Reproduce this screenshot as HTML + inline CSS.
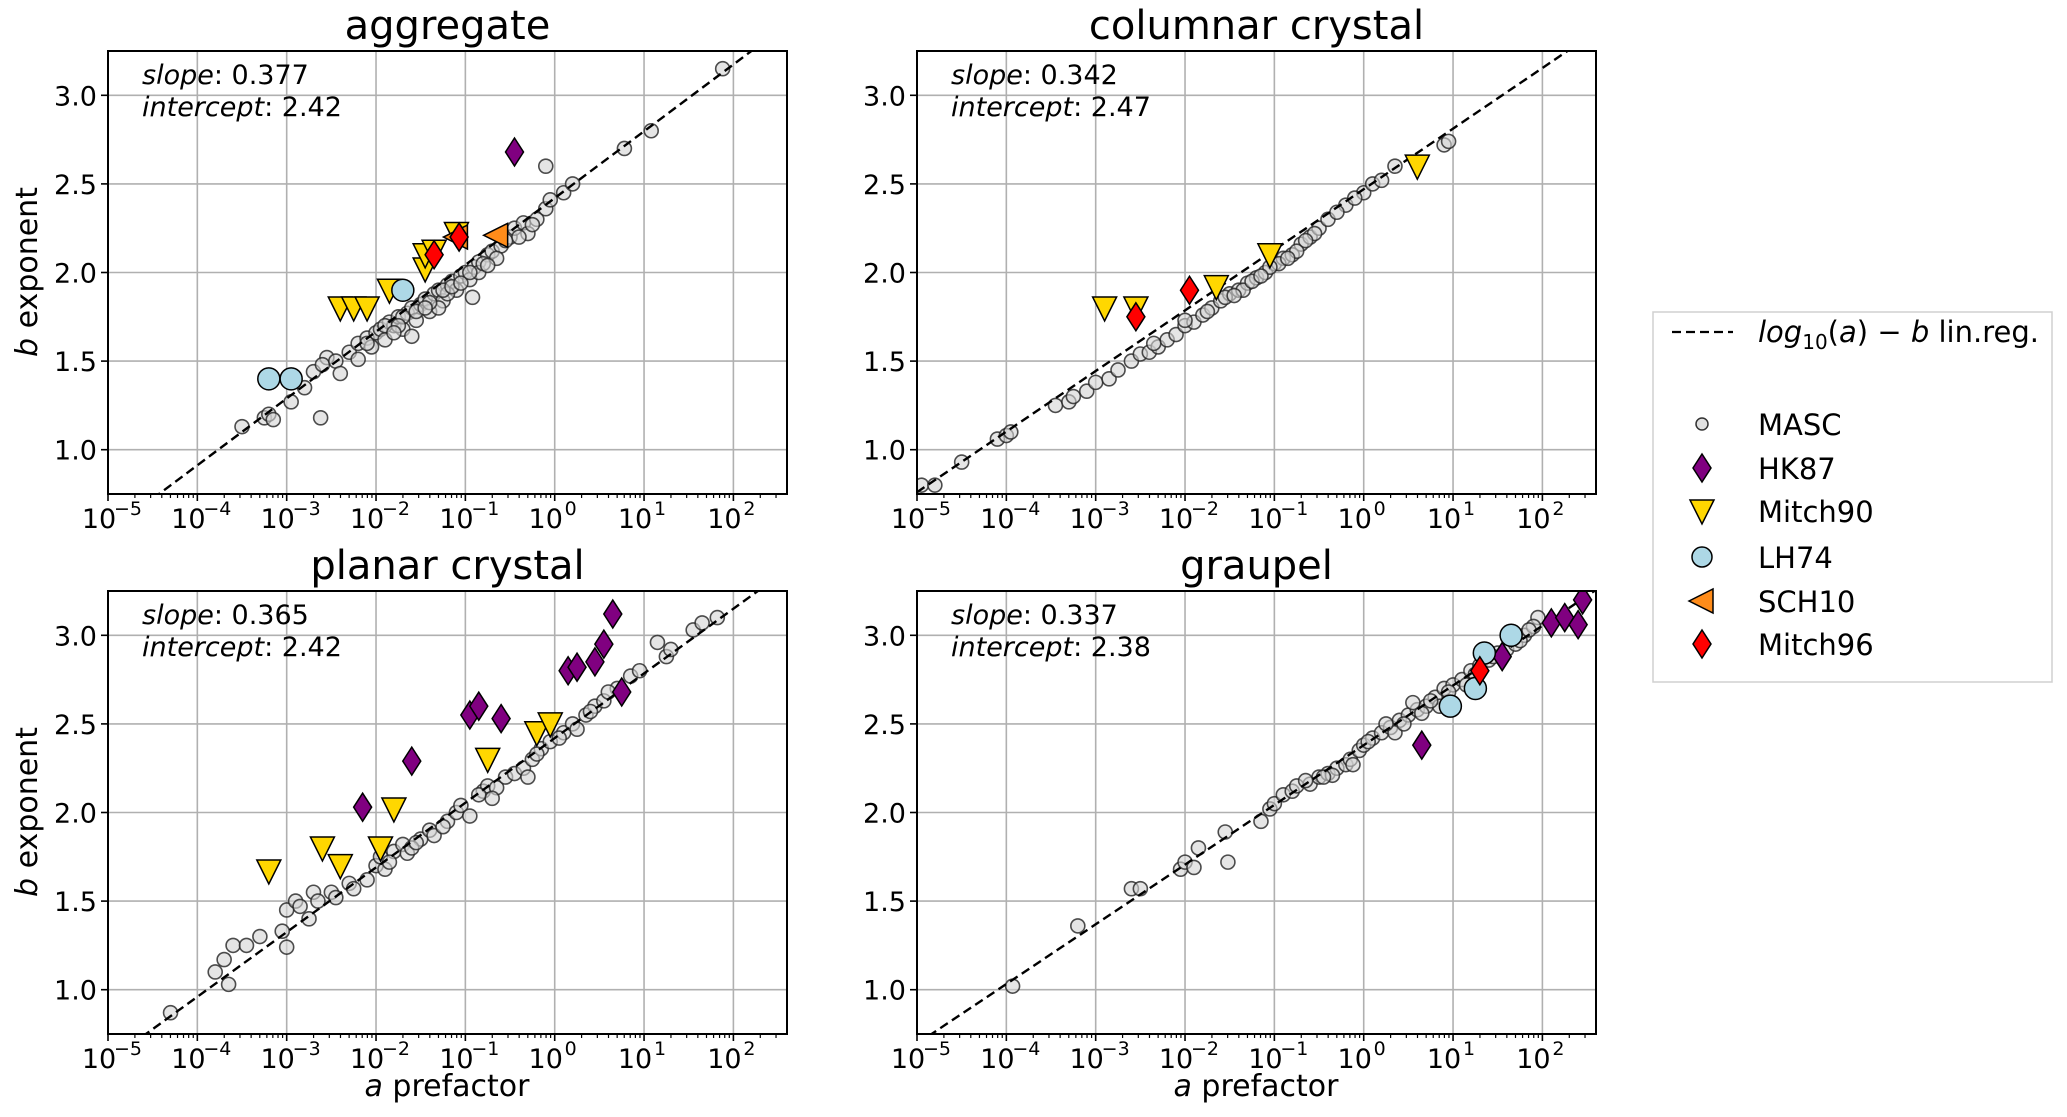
<!DOCTYPE html>
<html><head><meta charset="utf-8"><style>
html,body{margin:0;padding:0;background:#fff;}
svg{display:block;font-family:"DejaVu Sans","Liberation Sans",sans-serif;}
</style></head><body>
<svg id="fig" width="2067" height="1117" viewBox="0 0 2067 1117" xmlns="http://www.w3.org/2000/svg"></svg>
<script>
// ---- data (x = log10(a), y = b) ----
const panelTitles = ["aggregate","columnar crystal","planar crystal","graupel"];
const slopes = [0.377,0.342,0.365,0.337];
const intercepts = [2.42,2.47,2.42,2.38];
const xTickExps = [-5,-4,-3,-2,-1,0,1,2];
const yTicks = [1.0,1.5,2.0,2.5,3.0];

const masc0 = [[-3.5,1.13],[-3.25,1.18],[-3.2,1.2],[-3.15,1.17],[-2.95,1.27],[-2.8,1.35],[-2.62,1.18],[-2.7,1.44],[-2.55,1.52],[-2.6,1.48],[-2.45,1.5],[-2.4,1.43],[-2.3,1.55],[-2.2,1.6],[-2.2,1.51],[-2.1,1.63],[-2.05,1.58],[-2.0,1.66],[-1.95,1.68],[-1.9,1.62],[-1.85,1.72],[-1.8,1.7],[-1.75,1.75],[-1.7,1.68],[-1.65,1.77],[-1.6,1.8],[-1.55,1.73],[-1.5,1.82],[-1.45,1.85],[-1.4,1.78],[-1.35,1.88],[-1.3,1.9],[-1.25,1.84],[-1.2,1.93],[-1.15,1.95],[-1.1,1.9],[-1.05,1.98],[-1.0,2.0],[-0.95,1.96],[-0.9,2.03],[-0.85,2.06],[-0.85,2.0],[-0.75,2.1],[-0.7,2.12],[-0.6,2.15],[-0.5,2.2],[-0.45,2.25],[-0.35,2.28],[-0.3,2.22],[-0.2,2.3],[-0.1,2.36],[-0.05,2.41],[-0.1,2.6],[0.1,2.45],[0.2,2.5],[0.78,2.7],[1.08,2.8],[1.88,3.15],[-1.3,1.8],[-1.6,1.64],[-0.92,1.86],[-1.7,1.75],[-1.4,1.83],[-1.2,1.88],[-0.8,2.05],[-0.65,2.08],[-1.9,1.7],[-1.75,1.7],[-1.55,1.78],[-1.45,1.8],[-1.25,1.9],[-1.15,1.92],[-1.05,1.94],[-0.95,2.0],[-0.75,2.04],[-0.55,2.18],[-0.4,2.2],[-0.25,2.27],[-2.1,1.6],[-1.8,1.66]];
const hk0 = [[-0.45,2.68]];
const mi90_0 = [[-2.4,1.8],[-2.25,1.8],[-2.1,1.8],[-1.85,1.9],[-1.45,2.02],[-1.45,2.1],[-1.35,2.12],[-1.1,2.22]];
const lh0 = [[-3.2,1.4],[-2.95,1.4],[-1.7,1.9]];
const sch0 = [[-0.65,2.21],[-1.1,2.2]];
const mi96_0 = [[-1.35,2.1],[-1.07,2.2]];

const masc1 = [[-4.95,0.8],[-4.8,0.8],[-4.5,0.93],[-4.1,1.06],[-4.0,1.08],[-3.95,1.1],[-3.45,1.25],[-3.3,1.27],[-3.25,1.3],[-3.1,1.33],[-3.0,1.38],[-2.85,1.4],[-2.75,1.45],[-2.6,1.5],[-2.5,1.54],[-2.4,1.55],[-2.3,1.58],[-2.2,1.62],[-2.1,1.65],[-2.0,1.7],[-1.9,1.72],[-1.8,1.76],[-1.7,1.8],[-1.6,1.84],[-1.5,1.88],[-1.4,1.9],[-1.3,1.94],[-1.2,1.97],[-1.1,2.0],[-1.0,2.05],[-0.9,2.08],[-0.8,2.1],[-0.7,2.16],[-0.6,2.2],[-0.5,2.25],[-0.4,2.3],[-0.2,2.38],[0.0,2.45],[0.1,2.5],[0.2,2.52],[0.35,2.6],[0.9,2.72],[0.95,2.74],[-2.0,1.73],[-1.75,1.78],[-1.35,1.9],[-0.95,2.05],[-1.55,1.86],[-1.25,1.95],[-0.75,2.12],[-0.55,2.22],[-2.35,1.6],[-1.05,2.03],[-1.45,1.87],[-1.15,1.98],[-0.85,2.08],[-0.65,2.18],[-0.3,2.34],[-0.1,2.42]];
const hk1 = [];
const mi90_1 = [[-2.9,1.8],[-2.55,1.8],[-1.65,1.92],[-1.05,2.1],[0.6,2.6]];
const lh1 = [];
const sch1 = [];
const mi96_1 = [[-2.55,1.75],[-1.95,1.9]];

const masc2 = [[-4.3,0.87],[-3.65,1.03],[-3.8,1.1],[-3.7,1.17],[-3.6,1.25],[-3.45,1.25],[-3.3,1.3],[-3.05,1.33],[-3.0,1.24],[-3.0,1.45],[-2.9,1.5],[-2.85,1.47],[-2.7,1.55],[-2.75,1.4],[-2.65,1.5],[-2.5,1.55],[-2.45,1.52],[-2.3,1.6],[-2.25,1.57],[-2.1,1.62],[-2.0,1.7],[-1.95,1.75],[-1.9,1.68],[-1.8,1.78],[-1.7,1.82],[-1.65,1.77],[-1.5,1.85],[-1.4,1.9],[-1.35,1.87],[-1.2,1.95],[-1.1,2.0],[-1.05,2.04],[-0.95,1.98],[-0.8,2.12],[-0.75,2.15],[-0.65,2.14],[-0.55,2.2],[-0.45,2.22],[-0.35,2.25],[-0.25,2.3],[-0.15,2.36],[-0.05,2.4],[0.1,2.45],[0.2,2.5],[0.35,2.55],[0.45,2.6],[0.55,2.63],[0.7,2.7],[0.85,2.77],[0.95,2.8],[1.15,2.96],[1.25,2.88],[1.3,2.92],[1.55,3.03],[1.65,3.07],[1.82,3.1],[-0.7,2.08],[-0.3,2.2],[-1.6,1.8],[-1.85,1.72],[0.25,2.47],[0.6,2.68],[-1.55,1.83],[-1.25,1.92],[-0.85,2.1],[-0.2,2.33],[0.05,2.42],[0.4,2.57]];
const hk2 = [[-2.15,2.03],[-1.6,2.29],[-0.95,2.55],[-0.85,2.6],[-0.6,2.53],[0.15,2.8],[0.25,2.82],[0.45,2.85],[0.55,2.95],[0.65,3.12],[0.75,2.68]];
const mi90_2 = [[-3.2,1.67],[-2.6,1.8],[-2.4,1.7],[-1.95,1.8],[-1.8,2.02],[-0.75,2.3],[-0.2,2.45],[-0.05,2.5]];
const lh2 = [];
const sch2 = [];
const mi96_2 = [];

const masc3 = [[-3.93,1.02],[-3.2,1.36],[-2.6,1.57],[-2.5,1.57],[-2.05,1.68],[-2.0,1.72],[-1.9,1.69],[-1.85,1.8],[-1.55,1.89],[-1.52,1.72],[-1.15,1.95],[-1.05,2.02],[-1.0,2.05],[-0.9,2.1],[-0.8,2.12],[-0.6,2.16],[-0.5,2.2],[-0.4,2.22],[-0.3,2.25],[-0.2,2.27],[-0.15,2.3],[-0.05,2.35],[0.0,2.38],[0.1,2.42],[0.2,2.45],[0.3,2.48],[0.4,2.52],[0.5,2.55],[0.6,2.58],[0.7,2.6],[0.8,2.65],[0.9,2.7],[1.0,2.72],[1.1,2.75],[1.2,2.8],[1.3,2.83],[1.4,2.86],[1.5,2.9],[1.6,2.92],[1.7,2.95],[1.8,3.0],[1.95,3.1],[0.35,2.45],[0.55,2.62],[0.85,2.6],[-0.12,2.27],[-0.75,2.15],[-0.35,2.21],[0.25,2.5],[0.65,2.56],[1.15,2.72],[1.75,2.97],[1.9,3.05],[-0.65,2.18],[-0.45,2.2],[0.05,2.4],[0.45,2.5],[0.75,2.63],[0.95,2.68],[1.25,2.78],[1.45,2.88],[1.85,3.03]];
const hk3 = [[0.65,2.38],[2.1,3.07],[2.25,3.1],[2.4,3.06],[2.45,3.2],[1.55,2.88]];
const mi90_3 = [];
const lh3 = [[0.97,2.6],[1.25,2.7],[1.35,2.9],[1.65,3.0]];
const sch3 = [];
const mi96_3 = [[1.3,2.8]];

const mascAll=[masc0,masc1,masc2,masc3], hkAll=[hk0,hk1,hk2,hk3], mi90All=[mi90_0,mi90_1,mi90_2,mi90_3], lhAll=[lh0,lh1,lh2,lh3], schAll=[sch0,sch1,sch2,sch3], mi96All=[mi96_0,mi96_1,mi96_2,mi96_3];

// ---- layout ----
const NS="http://www.w3.org/2000/svg";
const svg=document.getElementById('fig');
const origins=[[108,51],[917,51],[108,591],[917,591]];
const PW=679, PH=443, XMIN=-5, XMAX=2.6, YMIN=0.75, YMAX=3.25;
function mk(tag,attrs,parent){const e=document.createElementNS(NS,tag);for(const k in attrs)e.setAttribute(k,attrs[k]);(parent||svg).appendChild(e);return e;}

function drawPanel(i){
  const [ox,oy]=origins[i];
  const sx=v=>ox+(v-XMIN)/(XMAX-XMIN)*PW;
  const sy=v=>oy+PH-(v-YMIN)/(YMAX-YMIN)*PH;
  const g=mk('g',{});
  
  
  const cid='clip'+i;
  const cp=mk('clipPath',{id:cid},g); mk('rect',{x:ox,y:oy,width:PW,height:PH},cp);
  const grid=mk('g',{stroke:'#b0b0b0','stroke-width':1.6},g);
  
  
  xTickExps.forEach(e=>mk('line',{x1:sx(e),x2:sx(e),y1:oy,y2:oy+PH},grid));
  yTicks.forEach(v=>mk('line',{x1:ox,x2:ox+PW,y1:sy(v),y2:sy(v)},grid));
  const tk=mk('g',{stroke:'#000','stroke-width':1.6},g);
  xTickExps.forEach(e=>{mk('line',{x1:sx(e),x2:sx(e),y1:oy+PH,y2:oy+PH+7},tk);
    for(let m=2;m<10;m++){const v=e+Math.log10(m); if(v<XMAX) mk('line',{x1:sx(v),x2:sx(v),y1:oy+PH,y2:oy+PH+4,'stroke-width':1.2},tk);}});
  yTicks.forEach(v=>mk('line',{x1:ox-7,x2:ox,y1:sy(v),y2:sy(v)},tk));
  const xl=mk('g',{'font-size':27,'text-anchor':'middle',fill:'#000'},g);
  
  
  xTickExps.forEach(e=>{const t=mk('text',{x:sx(e)-9,y:oy+PH+34},xl);t.textContent='10';
    const s=mk('text',{x:sx(e)+(e<0?20:16),y:oy+PH+21,'font-size':19},xl);s.textContent=(e<0?'\u2212':'')+Math.abs(e);});
  const yl=mk('g',{'font-size':27,'text-anchor':'end',fill:'#000'},g);
  
  
  yTicks.forEach(v=>{const t=mk('text',{x:ox-11,y:sy(v)+10},yl);t.textContent=v.toFixed(1);});
  const tt=mk('text',{x:ox+PW/2,y:oy-12,'font-size':40,'text-anchor':'middle'},g);
  tt.textContent=panelTitles[i];
  
  
  const a1=mk('text',{x:ox+34,y:oy+33,'font-size':27},g);
  a1.innerHTML='<tspan font-style="italic">slope</tspan>: '+slopes[i].toFixed(3);
  
  
  const a2=mk('text',{x:ox+34,y:oy+65,'font-size':27},g);
  a2.innerHTML='<tspan font-style="italic">intercept</tspan>: '+intercepts[i].toFixed(2);
  
  
  const dg=mk('g',{'clip-path':'url(#'+cid+')'},g);
  const mg=mk('g',{},dg);
  
  
  mascAll[i].forEach(p=>mk('circle',{cx:sx(p[0]),cy:sy(p[1]),r:7,fill:'#d4d4d4','fill-opacity':0.6,stroke:'#222','stroke-opacity':0.8,'stroke-width':1.6},mg));
  const ln=mk('line',{x1:sx(XMIN),y1:sy(intercepts[i]+slopes[i]*XMIN),x2:sx(XMAX),y2:sy(intercepts[i]+slopes[i]*XMAX),stroke:'#000','stroke-width':2.4,'stroke-dasharray':'9,5'},dg);
  
  
  drawSet(dg,hkAll[i],'hk87',sx,sy);
  drawSet(dg,mi90All[i],'mitch90',sx,sy);
  drawSet(dg,lhAll[i],'lh74',sx,sy);
  drawSet(dg,schAll[i],'sch10',sx,sy);
  drawSet(dg,mi96All[i],'mitch96',sx,sy);
  mk('rect',{x:ox,y:oy,width:PW,height:PH,fill:'none',stroke:'#000','stroke-width':2},g);
}
function marker(parent,kind,x,y){
  const st={stroke:'#000','stroke-width':1.5};
  if(kind==='hk87') return mk('polygon',Object.assign({points:`${x},${y-14} ${x+9},${y} ${x},${y+14} ${x-9},${y}`,fill:'#800080'},st),parent);
  if(kind==='mitch96') return mk('polygon',Object.assign({points:`${x},${y-14} ${x+9},${y} ${x},${y+14} ${x-9},${y}`,fill:'#ff0000'},st),parent);
  if(kind==='mitch90') return mk('polygon',Object.assign({points:`${x-12},${y-11} ${x+12},${y-11} ${x},${y+13}`,fill:'#ffd700'},st),parent);
  if(kind==='sch10') return mk('polygon',Object.assign({points:`${x-13},${y} ${x+11},${y-12} ${x+11},${y+12}`,fill:'#ff8c1a'},st),parent);
  if(kind==='lh74') return mk('circle',Object.assign({cx:x,cy:y,r:11,fill:'#add8e6'},st),parent);
  if(kind==='masc') return mk('circle',{cx:x,cy:y,r:6,fill:'#e0e0e0',stroke:'#333','stroke-width':1.5},parent);
}
function drawSet(parent,arr,kind,sx,sy){
  const g=mk('g',{},parent);
  
  
  arr.forEach(p=>marker(g,kind,sx(p[0]),sy(p[1])));
}
[0,1,2,3].forEach(drawPanel);

[[37,272],[37,812]].forEach(([x,y])=>{const t=mk('text',{x:x,y:y,'font-size':30,'text-anchor':'middle',transform:`rotate(-90 ${x} ${y})`});
  t.innerHTML='<tspan font-style="italic">b</tspan> exponent';
  
  });
[[447,1096],[1256,1096]].forEach(([x,y])=>{const t=mk('text',{x:x,y:y,'font-size':30,'text-anchor':'middle'});
  t.innerHTML='<tspan font-style="italic">a</tspan> prefactor';
  
  });

const lg=mk('g',{});


mk('rect',{x:1653,y:312,width:399,height:370,fill:'#fff',stroke:'#d0d0d0','stroke-width':1.5},lg);
mk('line',{x1:1672,x2:1733,y1:332,y2:332,stroke:'#000','stroke-width':2.2,'stroke-dasharray':'9,5'},lg);
const lt=mk('text',{x:1758,y:342,'font-size':29},lg);
lt.innerHTML='<tspan font-style="italic">log</tspan><tspan font-size="20" dy="7">10</tspan><tspan dy="-7">(</tspan><tspan font-style="italic">a</tspan>) \u2212 <tspan font-style="italic">b</tspan> lin.reg.';
const legNames=['MASC','HK87','Mitch90','LH74','SCH10','Mitch96'];
const legKinds=['masc','hk87','mitch90','lh74','sch10','mitch96'];
const legY=[424,468,511,557,601,644];
legNames.forEach((n,k)=>{
  const e=mk('g',{},lg);
  
  
  const m=marker(e,legKinds[k],1702,legY[k]);
  if(legKinds[k]==='lh74') m.setAttribute('r',10);
  const t=mk('text',{x:1758,y:legY[k]+11,'font-size':29},e);t.textContent=n;
});
</script>
</body></html>
